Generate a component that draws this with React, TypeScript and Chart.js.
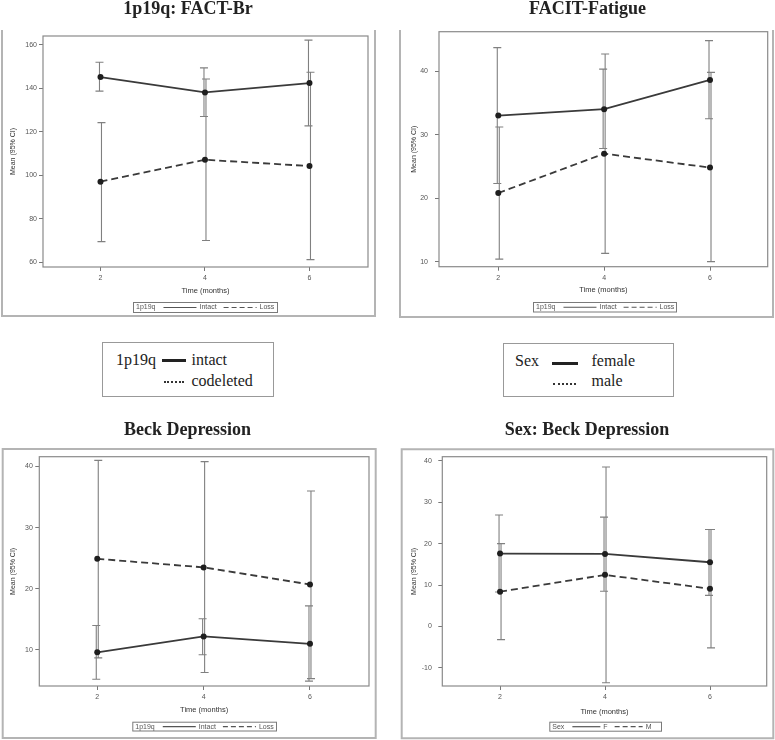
import React, { useEffect, useRef } from 'react';
import { Chart, registerables } from 'chart.js';

Chart.register(...registerables);
Chart.defaults.font.family = '"Liberation Sans", Arial, sans-serif';

// ---------- data ----------
const months = [2, 4, 6];
const xTickValues = [2, 4, 6];

// 1p19q: FACT-Br
const factIntactMean = [145.2, 138.1, 142.4];
const factIntactLow = [138.7, 127.0, 122.7];
const factIntactHigh = [152.0, 149.4, 162.2];
const factLossMean = [97.0, 107.1, 104.2];
const factLossLow = [69.4, 69.9, 61.1];
const factLossHigh = [124.2, 144.3, 147.4];
const factYTicks = [60, 80, 100, 120, 140, 160];

// FACIT-Fatigue
const fatIntactMean = [33.0, 34.0, 38.6];
const fatIntactLow = [22.3, 27.8, 32.5];
const fatIntactHigh = [43.7, 40.3, 44.8];
const fatLossMean = [20.8, 27.0, 24.8];
const fatLossLow = [10.4, 11.3, 10.0];
const fatLossHigh = [31.2, 42.7, 39.8];
const fatYTicks = [10, 20, 30, 40];

// Beck Depression (1p19q)
const beckIntactMean = [9.6, 12.2, 11.0];
const beckIntactLow = [5.2, 9.2, 4.9];
const beckIntactHigh = [14.0, 15.1, 17.2];
const beckLossMean = [24.9, 23.5, 20.7];
const beckLossLow = [8.7, 6.3, 5.3];
const beckLossHigh = [41.0, 40.8, 36.0];
const beckYTicks = [10, 20, 30, 40];

// Sex: Beck Depression
const sexFMean = [17.6, 17.5, 15.5];
const sexFLow = [8.3, 8.5, 7.5];
const sexFHigh = [26.9, 26.4, 23.4];
const sexMMean = [8.4, 12.45, 9.1];
const sexMLow = [-3.2, -13.6, -5.2];
const sexMHigh = [20.0, 38.5, 23.4];
const sexYTicks = [-10, 0, 10, 20, 30, 40];

const xAxisTitle = 'Time (months)';
const yAxisTitle = 'Mean (95% CI)';

// ---------- layout specs ----------
type Series = { label: string; mean: number[]; low: number[]; high: number[]; dashed: boolean; off: number };
type PanelSpec = {
  left: number; top: number; width: number; height: number;
  title: string; titleX: number; titleY: number;
  plot: { l: number; r: number; t: number; b: number };
  xAxisH: number;
  xMin: number; xMax: number;
  yMin: number; yMax: number; yTicks: number[]; yLabelPad: number; yTitlePad: number;
  frame: { l: number; t: number; r: number; b: number; top: boolean };
  legend: { l: number; t: number; w: number; h: number; title: string; lineLen: number };
  series: Series[];
};

const panels: PanelSpec[] = [
  {
    left: 0, top: 0, width: 385, height: 320,
    title: '1p19q: FACT-Br', titleX: 188, titleY: 14,
    plot: { l: 43, r: 368, t: 36, b: 267 }, xAxisH: 28,
    xMin: 0.9, xMax: 7.12,
    yMin: 57.7, yMax: 164.1, yTicks: factYTicks, yLabelPad: 2, yTitlePad: 9,
    frame: { l: 2, t: 30, r: 375, b: 316, top: false },
    legend: { l: 133, t: 302, w: 144, h: 10, title: '1p19q', lineLen: 33 },
    series: [
      { label: 'Intact', mean: factIntactMean, low: factIntactLow, high: factIntactHigh, dashed: false, off: -1 },
      { label: 'Loss', mean: factLossMean, low: factLossLow, high: factLossHigh, dashed: true, off: 1 },
    ],
  },
  {
    left: 385, top: 0, width: 390, height: 320,
    title: 'FACIT-Fatigue', titleX: 202.5, titleY: 14,
    plot: { l: 54, r: 382.7, t: 31.7, b: 266.7 }, xAxisH: 28,
    xMin: 0.88, xMax: 7.09,
    yMin: 9.2, yMax: 46.2, yTicks: fatYTicks, yLabelPad: 7, yTitlePad: 25,
    frame: { l: 15, t: 30, r: 388, b: 317, top: false },
    legend: { l: 148, t: 302, w: 143, h: 9.5, title: '1p19q', lineLen: 33 },
    series: [
      { label: 'Intact', mean: fatIntactMean, low: fatIntactLow, high: fatIntactHigh, dashed: false, off: -1 },
      { label: 'Loss', mean: fatLossMean, low: fatLossLow, high: fatLossHigh, dashed: true, off: 1 },
    ],
  },
  {
    left: 0, top: 410, width: 385, height: 330,
    title: 'Beck Depression', titleX: 187.5, titleY: 25,
    plot: { l: 39.3, r: 369, t: 46.7, b: 276 }, xAxisH: 28,
    xMin: 0.91, xMax: 7.11,
    yMin: 4.1, yMax: 41.6, yTicks: beckYTicks, yLabelPad: 2.5, yTitlePad: 9,
    frame: { l: 2.7, t: 39, r: 375.7, b: 328, top: true },
    legend: { l: 132.3, t: 311.7, w: 143.7, h: 8.8, title: '1p19q', lineLen: 33 },
    series: [
      { label: 'Intact', mean: beckIntactMean, low: beckIntactLow, high: beckIntactHigh, dashed: false, off: -1 },
      { label: 'Loss', mean: beckLossMean, low: beckLossLow, high: beckLossHigh, dashed: true, off: 1 },
    ],
  },
  {
    left: 385, top: 410, width: 390, height: 330,
    title: 'Sex: Beck Depression', titleX: 202, titleY: 25,
    plot: { l: 57.3, r: 381.7, t: 46.7, b: 276 }, xAxisH: 30,
    xMin: 0.9, xMax: 7.08,
    yMin: -14.4, yMax: 41, yTicks: sexYTicks, yLabelPad: 6.5, yTitlePad: 25,
    frame: { l: 16.7, t: 39.3, r: 388.3, b: 328.3, top: true },
    legend: { l: 164.3, t: 311.7, w: 111.7, h: 9, title: 'Sex', lineLen: 28 },
    series: [
      { label: 'F', mean: sexFMean, low: sexFLow, high: sexFHigh, dashed: false, off: -1 },
      { label: 'M', mean: sexMMean, low: sexMLow, high: sexMHigh, dashed: true, off: 1 },
    ],
  },
];

const SANS = '"Liberation Sans", Arial, sans-serif';
const SERIF = '"Liberation Serif", "Times New Roman", serif';

function decorPlugin(p: PanelSpec) {
  return {
    id: 'panelDecor',
    beforeDraw(chart: any) {
      const ctx = chart.ctx;
      ctx.save();
      const f = p.frame;
      ctx.strokeStyle = '#b4b4b4';
      ctx.lineWidth = 2;
      ctx.beginPath();
      if (f.top) {
        ctx.rect(f.l, f.t, f.r - f.l, f.b - f.t);
      } else {
        ctx.moveTo(f.l, f.t);
        ctx.lineTo(f.l, f.b);
        ctx.lineTo(f.r, f.b);
        ctx.lineTo(f.r, f.t);
      }
      ctx.stroke();
      ctx.fillStyle = '#222';
      ctx.font = `bold 18px ${SERIF}`;
      ctx.textAlign = 'center';
      ctx.textBaseline = 'alphabetic';
      ctx.fillText(p.title, p.titleX, p.titleY);
      ctx.restore();
    },
    beforeDatasetsDraw(chart: any) {
      const ctx = chart.ctx;
      const yScale = chart.scales.y;
      ctx.save();
      ctx.strokeStyle = '#808080';
      ctx.lineWidth = 1.1;
      chart.data.datasets.forEach((ds: any, i: number) => {
        const meta = chart.getDatasetMeta(i);
        meta.data.forEach((pt: any, j: number) => {
          const x = pt.x + ds.errOffset;
          const yl = yScale.getPixelForValue(ds.errLow[j]);
          const yh = yScale.getPixelForValue(ds.errHigh[j]);
          ctx.beginPath();
          ctx.moveTo(x, yl);
          ctx.lineTo(x, yh);
          ctx.moveTo(x - 4, yl);
          ctx.lineTo(x + 4, yl);
          ctx.moveTo(x - 4, yh);
          ctx.lineTo(x + 4, yh);
          ctx.stroke();
        });
      });
      ctx.restore();
    },
    afterDraw(chart: any) {
      const ctx = chart.ctx;
      const a = chart.chartArea;
      ctx.save();
      ctx.strokeStyle = '#8a8a8a';
      ctx.lineWidth = 1.2;
      ctx.strokeRect(a.left, a.top, a.right - a.left, a.bottom - a.top);
      // legend box
      const lg = p.legend;
      ctx.strokeStyle = '#7a7a7a';
      ctx.lineWidth = 1;
      ctx.strokeRect(lg.l + 0.5, lg.t + 0.5, lg.w, lg.h);
      ctx.font = `7px ${SANS}`;
      ctx.fillStyle = '#555';
      ctx.textBaseline = 'middle';
      ctx.textAlign = 'left';
      const cy = lg.t + lg.h / 2 + 0.5;
      let x = lg.l + 3;
      ctx.fillText(lg.title, x, cy);
      x += ctx.measureText(lg.title).width + 8;
      p.series.forEach((s) => {
        ctx.beginPath();
        ctx.setLineDash(s.dashed ? [5, 3] : []);
        ctx.strokeStyle = '#555';
        ctx.lineWidth = 1.2;
        ctx.moveTo(x, cy);
        ctx.lineTo(x + lg.lineLen, cy);
        ctx.stroke();
        ctx.setLineDash([]);
        x += lg.lineLen + 3;
        ctx.fillText(s.label, x, cy);
        x += ctx.measureText(s.label).width + 7;
      });
      ctx.restore();
    },
  };
}

function buildConfig(p: PanelSpec): any {
  const datasets = p.series.map((s) => ({
    label: s.label,
    data: months.map((m, i) => ({ x: m, y: s.mean[i] })),
    errLow: s.low,
    errHigh: s.high,
    errOffset: s.off,
    borderColor: '#3a3a3a',
    borderWidth: 1.8,
    borderDash: s.dashed ? [7, 4] : [],
    pointRadius: 3,
    pointBackgroundColor: '#1e1e1e',
    pointBorderColor: '#1e1e1e',
    pointBorderWidth: 0,
    fill: false,
    tension: 0,
  }));
  const gridOpts = { drawOnChartArea: false, drawTicks: true, tickLength: 4, color: '#777', lineWidth: 1 };
  return {
    type: 'line',
    data: { datasets },
    options: {
      animation: false,
      responsive: false,
      maintainAspectRatio: false,
      devicePixelRatio: 1,
      layout: {
        padding: {
          left: 0,
          right: p.width - p.plot.r,
          top: p.plot.t,
          bottom: p.height - p.plot.b - p.xAxisH,
        },
      },
      plugins: { legend: { display: false }, tooltip: { enabled: false }, title: { display: false } },
      scales: {
        x: {
          type: 'linear',
          min: p.xMin,
          max: p.xMax,
          afterBuildTicks: (s: any) => { s.ticks = xTickValues.map((v) => ({ value: v })); },
          afterFit: (s: any) => { s.height = p.xAxisH; },
          grid: gridOpts,
          border: { display: false },
          ticks: { font: { size: 7, family: SANS }, color: '#555', padding: 3, maxRotation: 0, autoSkip: false },
          title: { display: true, text: xAxisTitle, font: { size: 7.5, family: SANS }, color: '#333', padding: { top: 0, bottom: 0 } },
        },
        y: {
          type: 'linear',
          min: p.yMin,
          max: p.yMax,
          afterBuildTicks: (s: any) => { s.ticks = p.yTicks.map((v) => ({ value: v })); },
          afterFit: (s: any) => { s.width = p.plot.l; },
          grid: gridOpts,
          border: { display: false },
          ticks: { font: { size: 7, family: SANS }, color: '#555', padding: p.yLabelPad },
          title: { display: true, text: yAxisTitle, font: { size: 7, family: SANS }, color: '#333', padding: { top: p.yTitlePad, bottom: 0 } },
        },
      },
    },
    plugins: [decorPlugin(p)],
  };
}

function PanelChart({ p }: { p: PanelSpec }) {
  const ref = useRef<HTMLCanvasElement>(null);
  useEffect(() => {
    const chart = new Chart(ref.current as HTMLCanvasElement, buildConfig(p));
    return () => chart.destroy();
  }, [p]);
  return (
    <canvas
      ref={ref}
      width={p.width}
      height={p.height}
      style={{ position: 'absolute', left: p.left, top: p.top, width: p.width, height: p.height }}
    />
  );
}

function SerifText({ text, x, baseline }: { text: string; x: number; baseline: number }) {
  return (
    <span
      style={{
        position: 'absolute', left: x, top: baseline - 13.4, font: `16px ${SERIF}`,
        lineHeight: '16px', whiteSpace: 'nowrap', color: '#222',
      }}
    >
      {text}
    </span>
  );
}

function Box({ l, t, w, h }: { l: number; t: number; w: number; h: number }) {
  return <div style={{ position: 'absolute', left: l, top: t, width: w, height: h, border: '1px solid #999', boxSizing: 'border-box' }} />;
}

function SolidSample({ l, t, w }: { l: number; t: number; w: number }) {
  return <div style={{ position: 'absolute', left: l, top: t, width: w, height: 3, background: '#222' }} />;
}

function DottedSample({ l, t, w }: { l: number; t: number; w: number }) {
  return <div style={{ position: 'absolute', left: l, top: t, width: w, height: 0, borderTop: '2px dotted #333' }} />;
}

export default function App() {
  return (
    <div style={{ position: 'absolute', left: 0, top: 0, width: 775, height: 740, background: '#fff', overflow: 'hidden' }}>
      {panels.map((p, i) => <PanelChart key={i} p={p} />)}
      {/* middle legends */}
      <Box l={102} t={342} w={172} h={55} />
      <SerifText text="1p19q" x={116} baseline={365.5} />
      <SolidSample l={162} t={358.5} w={24} />
      <SerifText text="intact" x={191.5} baseline={365.5} />
      <DottedSample l={164} t={381} w={20} />
      <SerifText text="codeleted" x={191.5} baseline={386} />

      <Box l={503} t={343} w={171} h={54} />
      <SerifText text="Sex" x={515} baseline={366} />
      <SolidSample l={552} t={361.5} w={26} />
      <SerifText text="female" x={591.5} baseline={366} />
      <DottedSample l={553} t={382.5} w={23} />
      <SerifText text="male" x={591.5} baseline={386} />
    </div>
  );
}
